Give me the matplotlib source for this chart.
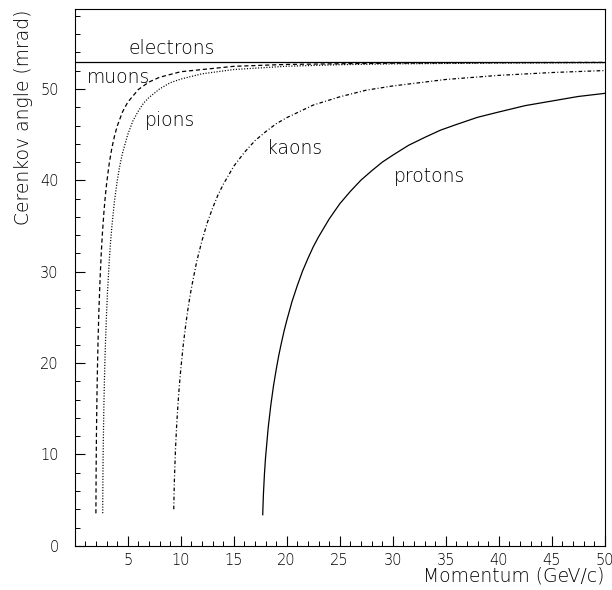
import matplotlib
matplotlib.use("Agg")
import matplotlib.pyplot as plt
from matplotlib.ticker import FixedLocator, MultipleLocator

# ---- data (momentum GeV/c, Cerenkov angle mrad) ----
electron_p = [0.0, 50.0]
electron_theta = [52.95, 52.95]

muon_p = [1.9985, 2.02, 2.05, 2.1, 2.15, 2.2, 2.25, 2.3, 2.4, 2.5, 2.6, 2.75, 2.875,
          3.0, 3.25, 3.5, 3.75, 4.0, 4.5, 5.0, 6.0, 7.0, 8.0, 10.0, 15.0, 20.0,
          30.0, 40.0, 50.0]
muon_theta = [3.55, 8.46, 12.29, 16.61, 19.80, 22.37, 24.53, 26.39, 29.47, 31.94,
              33.98, 36.47, 38.14, 39.56, 41.81, 43.52, 44.84, 45.91, 47.47, 48.55,
              49.94, 50.76, 51.28, 51.89, 52.48, 52.69, 52.83, 52.88, 52.91]

pion_p = [2.639, 2.65, 2.67, 2.7, 2.75, 2.8, 2.85, 2.9, 3.0, 3.1, 3.25, 3.375, 3.5,
          3.75, 4.0, 4.25, 4.5, 5.0, 5.5, 6.0, 6.5, 7.0, 8.0, 9.0, 10.0, 12.0,
          15.0, 20.0, 25.0, 30.0, 40.0, 50.0]
pion_theta = [3.57, 5.99, 8.79, 11.72, 15.28, 18.01, 20.28, 22.19, 25.38, 27.95,
              31.04, 33.16, 34.88, 37.74, 39.86, 41.60, 42.94, 45.01, 46.53, 47.58,
              48.46, 49.06, 50.00, 50.68, 51.08, 51.66, 52.13, 52.49, 52.66, 52.75,
              52.84, 52.88]

kaon_p = [9.342, 9.35, 9.4, 9.5, 9.6, 9.7, 9.85, 10.0, 10.25, 10.5, 10.75, 11.0,
          11.5, 12.0, 12.5, 13.0, 13.5, 14.0, 15.0, 16.0, 17.0, 18.0, 19.0, 20.0,
          22.5, 25.0, 27.5, 30.0, 35.0, 40.0, 45.0, 50.0]
kaon_theta = [4.0, 4.57, 7.10, 10.40, 12.82, 14.77, 17.23, 19.26, 22.12, 24.44,
              26.46, 28.16, 31.08, 33.38, 35.34, 36.94, 38.36, 39.53, 41.54, 43.05,
              44.34, 45.31, 46.19, 46.86, 48.24, 49.14, 49.87, 50.33, 51.04, 51.49,
              51.80, 52.02]

proton_p = [17.737, 17.75, 17.8, 17.9, 18.0, 18.25, 18.5, 18.75, 19.0, 19.25, 19.5,
            19.75, 20.0, 20.5, 21.0, 21.5, 22.0, 22.5, 23.0, 24.0, 25.0, 26.0, 27.0,
            28.0, 29.0, 30.0, 31.5, 33.0, 34.5, 36.0, 38.0, 40.0, 42.5, 45.0, 47.5,
            50.0]
proton_theta = [3.4, 3.97, 5.61, 7.89, 9.63, 12.90, 15.40, 17.49, 19.25, 20.84,
                22.22, 23.51, 24.65, 26.74, 28.49, 30.09, 31.45, 32.72, 33.81, 35.76,
                37.43, 38.79, 40.02, 41.03, 41.98, 42.75, 43.84, 44.69, 45.49, 46.11,
                46.90, 47.48, 48.18, 48.68, 49.18, 49.52]

curve_labels = ["electrons", "muons", "pions", "kaons", "protons"]
label_p = [5.03, 1.13, 6.63, 18.11, 30.15]
label_theta = [53.86, 50.65, 45.97, 42.91, 39.77]

x_ticks = [5, 10, 15, 20, 25, 30, 35, 40, 45, 50]
y_ticks = [0, 10, 20, 30, 40, 50]

# ---- figure ----
plt.rcParams['font.family'] = ['DejaVu Sans']
plt.rcParams['font.weight'] = 'light'
plt.rcParams['lines.scale_dashes'] = False

fig = plt.figure(figsize=(6.12, 5.9), dpi=100)
ax = fig.add_axes([0.1221, 0.0749, 0.866, 0.909])

lw = 0.9
ax.plot(electron_p, electron_theta, color='black', lw=lw, linestyle='-')
ax.plot(muon_p, muon_theta, color='black', lw=lw, linestyle=(0, (3.0, 2.0)))
ax.plot(pion_p, pion_theta, color='black', lw=lw, linestyle=(0, (0.8, 1.2)))
ax.plot(kaon_p, kaon_theta, color='black', lw=lw, linestyle=(0, (2.6, 1.6, 0.7, 1.6)))
ax.plot(proton_p, proton_theta, color='black', lw=lw, linestyle='-')

txt_color = 'black'
for t, px, py in zip(curve_labels, label_p, label_theta):
    ax.text(px, py, t, fontsize=13.5, ha='left', va='baseline', color=txt_color,
            fontweight='light')

ax.set_xlim(0, 50)
ax.set_ylim(0, 58.7)

ax.xaxis.set_major_locator(FixedLocator(x_ticks))
ax.set_xticklabels([str(v) for v in x_ticks])
ax.xaxis.set_minor_locator(MultipleLocator(1))
ax.yaxis.set_major_locator(FixedLocator(y_ticks))
ax.set_yticklabels([str(v) for v in y_ticks])
ax.yaxis.set_minor_locator(MultipleLocator(2))

ax.tick_params(which='both', direction='in', top=False, right=False, colors='black',
               labelcolor=txt_color)
ax.tick_params(which='major', length=7.2, width=0.8, labelsize=10.5)
ax.tick_params(which='minor', length=3.6, width=0.7)
ax.tick_params(axis='x', which='major', pad=5)
ax.tick_params(axis='y', which='major', pad=11.5)
for lab in ax.get_xticklabels() + ax.get_yticklabels():
    lab.set_fontweight('light')

for s in ax.spines.values():
    s.set_linewidth(0.8)
    s.set_color('black')

ax.set_xlabel("Momentum (GeV/c)", fontsize=13.5, loc='right', color=txt_color,
              fontweight='light')
ax.xaxis.set_label_coords(1.0, -0.039)
ax.set_ylabel("Cerenkov angle (mrad)", fontsize=13.5, loc='top', color=txt_color,
              fontweight='light')
ax.yaxis.set_label_coords(-0.079, 1.0)

fig.savefig("out.png", dpi=100)
